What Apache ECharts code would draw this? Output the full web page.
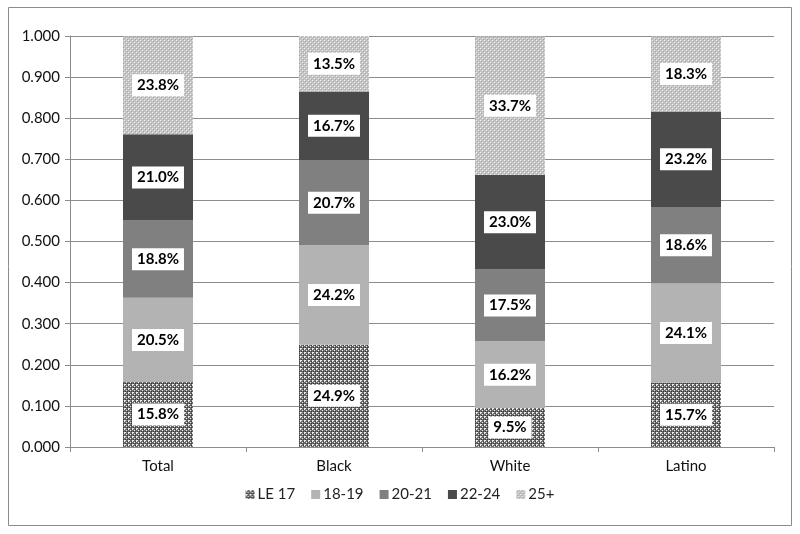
<!DOCTYPE html>
<html><head><meta charset="utf-8">
<script src="https://cdn.jsdelivr.net/npm/echarts@6/dist/echarts.min.js"></script>
<style>html,body{margin:0;padding:0;background:#fff}#c{width:800px;height:534px}</style>
</head><body><div id="c"></div>
<script>
var categories = ['Total', 'Black', 'White', 'Latino'];
var seriesNames = ['LE 17', '18-19', '20-21', '22-24', '25+'];
var le17 = [0.158, 0.249, 0.095, 0.157];
var a1819 = [0.205, 0.242, 0.162, 0.241];
var a2021 = [0.188, 0.207, 0.175, 0.186];
var a2224 = [0.210, 0.167, 0.230, 0.232];
var a25 = [0.238, 0.135, 0.337, 0.183];
var yTicks = [0, 0.1, 0.2, 0.3, 0.4, 0.5, 0.6, 0.7, 0.8, 0.9, 1.0];

function pattern(draw, size) {
  var c = document.createElement('canvas');
  c.width = size; c.height = size;
  var ctx = c.getContext('2d');
  draw(ctx);
  return {image: c, repeat: 'repeat'};
}
var patLE = pattern(function (ctx) {
  ctx.fillStyle = '#6e6e6e'; ctx.fillRect(0, 0, 4, 4);
  ctx.fillStyle = '#ececec';
  ctx.fillRect(0, 0, 1, 1); ctx.fillRect(2, 2, 1, 1);
  ctx.fillRect(1, 0, 1, 1); ctx.fillRect(0, 1, 1, 1);
  ctx.fillStyle = '#3a3a3a';
  ctx.fillRect(3, 3, 1, 1); ctx.fillRect(1, 3, 1, 1); ctx.fillRect(3, 1, 1, 1);
}, 4);
var pat25 = pattern(function (ctx) {
  ctx.fillStyle = '#c4c4c4'; ctx.fillRect(0, 0, 4, 4);
  ctx.fillStyle = '#f2f2f2';
  ctx.fillRect(0, 0, 1, 1); ctx.fillRect(2, 2, 1, 1);
  ctx.fillStyle = '#a8a8a8';
  ctx.fillRect(1, 1, 1, 1); ctx.fillRect(3, 3, 1, 1);
}, 4);

var colors = [patLE, '#b3b3b3', '#808080', '#4a4a4a', pat25];
var dataArr = [le17, a1819, a2021, a2224, a25];
var font = 'Lato, "Open Sans", sans-serif';

var series = seriesNames.map(function (n, i) {
  return {
    name: n, type: 'bar', stack: 'all', barWidth: 70,
    data: dataArr[i],
    itemStyle: {color: colors[i]},
    label: {
      show: true, position: 'inside',
      formatter: function (p) { return (p.value * 100).toFixed(1) + '%'; },
      backgroundColor: '#fff', padding: [4, 5, 3, 5],
      color: '#000', fontWeight: 'bold', fontSize: 15, fontFamily: font
    }
  };
});

var chart = echarts.init(document.getElementById('c'), null, {renderer: 'canvas'});
chart.setOption({
  animation: false,
  backgroundColor: '#fff',
  graphic: [{type: 'rect', shape: {x: 8.5, y: 7.5, width: 783, height: 518},
    style: {fill: 'none', stroke: '#8c8c8c', lineWidth: 1}, silent: true}],
  grid: {left: 70, right: 26, top: 36, bottom: 87},
  legend: {
    bottom: 27, left: 'center', itemWidth: 9, itemHeight: 9, itemGap: 16,
    icon: 'rect',
    textStyle: {fontSize: 15, color: '#222', fontFamily: font, padding: [0, 0, 0, -2]},
    data: seriesNames
  },
  xAxis: {
    type: 'category', data: categories,
    axisLine: {lineStyle: {color: '#8c8c8c'}},
    axisTick: {show: true, length: 5, interval: 0, lineStyle: {color: '#8c8c8c'}},
    axisLabel: {fontSize: 15, color: '#111', fontFamily: font, margin: 12}
  },
  yAxis: {
    type: 'value', min: yTicks[0], max: yTicks[yTicks.length - 1], interval: 0.1,
    axisLine: {show: true, lineStyle: {color: '#8c8c8c'}},
    axisTick: {show: true, length: 5, lineStyle: {color: '#8c8c8c'}},
    splitLine: {lineStyle: {color: '#8c8c8c'}},
    axisLabel: {fontSize: 15, color: '#111', fontFamily: font, margin: 10,
      formatter: function (v) { return v.toFixed(3); }}
  },
  series: series
});
</script></body></html>
